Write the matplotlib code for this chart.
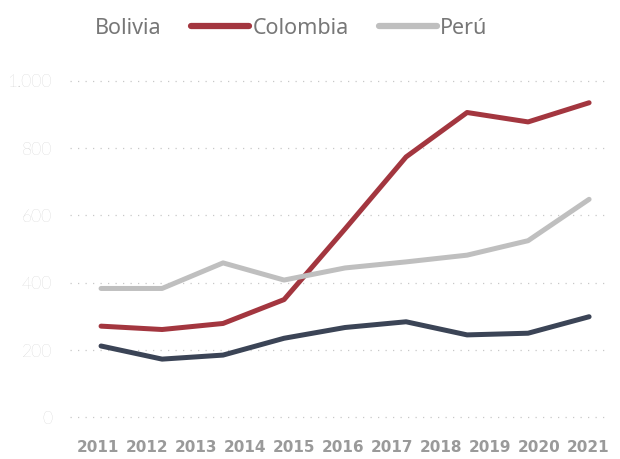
import numpy as np
import matplotlib
matplotlib.use("Agg")
import matplotlib.pyplot as plt

# values
years = ["2011", "2012", "2013", "2014", "2015", "2016",
         "2017", "2018", "2019", "2020", "2021"]
bolivia = [212, 173, 185, 235, 267, 284, 245, 250, 299]
colombia = [271, 261, 279, 350, 560, 774, 906, 878, 935]
peru = [383, 383, 459, 408, 444, 462, 482, 525, 648]
yticks = [0, 200, 400, 600, 800, 1000]
ytick_labels = ["0", "200", "400", "600", "800", "1.000"]

fig = plt.figure(figsize=(6.2, 4.59), dpi=100)
ax = fig.add_axes([0.113, 0.0688, 0.871, 0.777])

x = np.arange(len(bolivia))
l1, = ax.plot(x, bolivia, color="#3b4456", lw=3.6, solid_capstyle="round",
              solid_joinstyle="round", label="Bolivia")
l2, = ax.plot(x, colombia, color="#a3363f", lw=3.6, solid_capstyle="round",
              solid_joinstyle="round", label="Colombia")
l3, = ax.plot(x, peru, color="#bfbfbf", lw=3.6, solid_capstyle="round",
              solid_joinstyle="round", label="Perú")

ax.set_xlim(-0.508, 8.344)
ax.set_ylim(-30, 1030)
for s in ax.spines.values():
    s.set_visible(False)

ax.set_yticks(yticks)
ax.set_yticklabels(ytick_labels, fontsize=12.5, color="#b8b8b8",
                   family="Lato", fontweight="light")
ax.yaxis.grid(True, linestyle=(0, (1, 5)), color="#c8c8c8", lw=0.9)
ax.tick_params(axis="y", length=0, pad=13)

ax.set_xticks(np.linspace(x[0] - 0.05, x[-1] - 0.02, len(years)))
ax.set_xticklabels(years, fontsize=11, fontweight="bold", color="#9a9a9a")
ax.tick_params(axis="x", length=0, pad=9)

leg = fig.legend(handles=[l1, l2, l3], loc="upper center", ncol=3,
                 frameon=False, bbox_to_anchor=(0.42, 1.003),
                 handlelength=2.7, handletextpad=0.15, columnspacing=1.4,
                 prop={"family": "Noto Sans", "size": 15.5})
for t in leg.get_texts():
    t.set_color("#777777")
for h in leg.legend_handles:
    h.set_linewidth(4.5)
leg.legend_handles[0].set_visible(False)

fig.savefig("out.png", dpi=100)
